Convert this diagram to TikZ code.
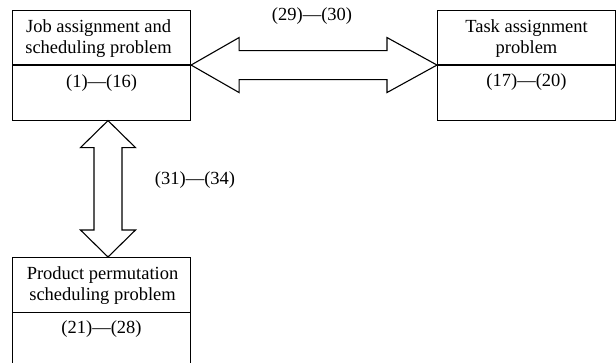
\documentclass[tikz,border=0pt]{standalone}
\usepackage{fontspec}
\setmainfont{Liberation Serif}
\usetikzlibrary{calc}
\begin{document}
\begin{tikzpicture}[x=1pt,y=-1pt,line width=1.1pt,
  box/.style={draw, rectangle, minimum width=178pt, minimum height=110pt, anchor=north west, inner sep=0pt},
  txt/.style={font=\fontsize{18.5}{21}\selectfont, align=center, inner sep=0pt},
  arrowshape/.style={draw, fill=white, line join=miter}]
\useasboundingbox (0,0) rectangle (616,362);
\clip (0,0) rectangle (616,362);
% boxes
\node[box] (job) at (12,9.5) {};
\node[box] (task) at (437,9.5) {};
\node[box] (perm) at (12,257) {};
% dividers
\draw ($(job.north west)+(0,55.5)$) -- ($(job.north east)+(0,55.5)$);
\draw ($(task.north west)+(0,55.5)$) -- ($(task.north east)+(0,55.5)$);
\draw ($(perm.north west)+(0,55.5)$) -- ($(perm.north east)+(0,55.5)$);
% titles
\node[txt] (jobt) at ($(job.north)+(-3,29)$) {Job assignment and\\scheduling problem};
\node[txt] (taskt) at ($(task.north)+(0,29)$) {Task assignment\\problem};
\node[txt] (permt) at ($(perm.north)+(1,29)$) {Product permutation\\scheduling problem};
% equation ranges
\node[txt] (jobn) at ($(job.north)+(0,74)$) {(1)—(16)};
\node[txt] (taskn) at ($(task.north)+(0,73)$) {(17)—(20)};
\node[txt] (permn) at ($(perm.north)+(0,72)$) {(21)—(28)};
% horizontal double arrow
\draw[arrowshape] (job.east) -- ++(48,-27.5) -- ++(0,13) -- ($(task.west)+(-50,-14.5)$) -- ++(0,-13) -- (task.west) -- ++(-50,27.5) -- ++(0,-13) -- ($(job.east)+(48,14.5)$) -- ++(0,13) -- cycle;
\node[txt] (hl) at (312,16) {(29)—(30)};
% vertical double arrow
\coordinate (vt) at ($(job.south west)+(96,0)$);
\coordinate (vb) at ($(perm.north west)+(96,0)$);
\draw[arrowshape] (vt) -- ++(27.5,27) -- ++(-13.5,0) -- ($(vb)+(14,-27)$) -- ++(13.5,0) -- (vb) -- ++(-27.5,-27) -- ++(13.5,0) -- ($(vt)+(-14,27)$) -- ++(-13.5,0) -- cycle;
\node[txt] (vl) at (195,180) {(31)—(34)};
\end{tikzpicture}
\end{document}
